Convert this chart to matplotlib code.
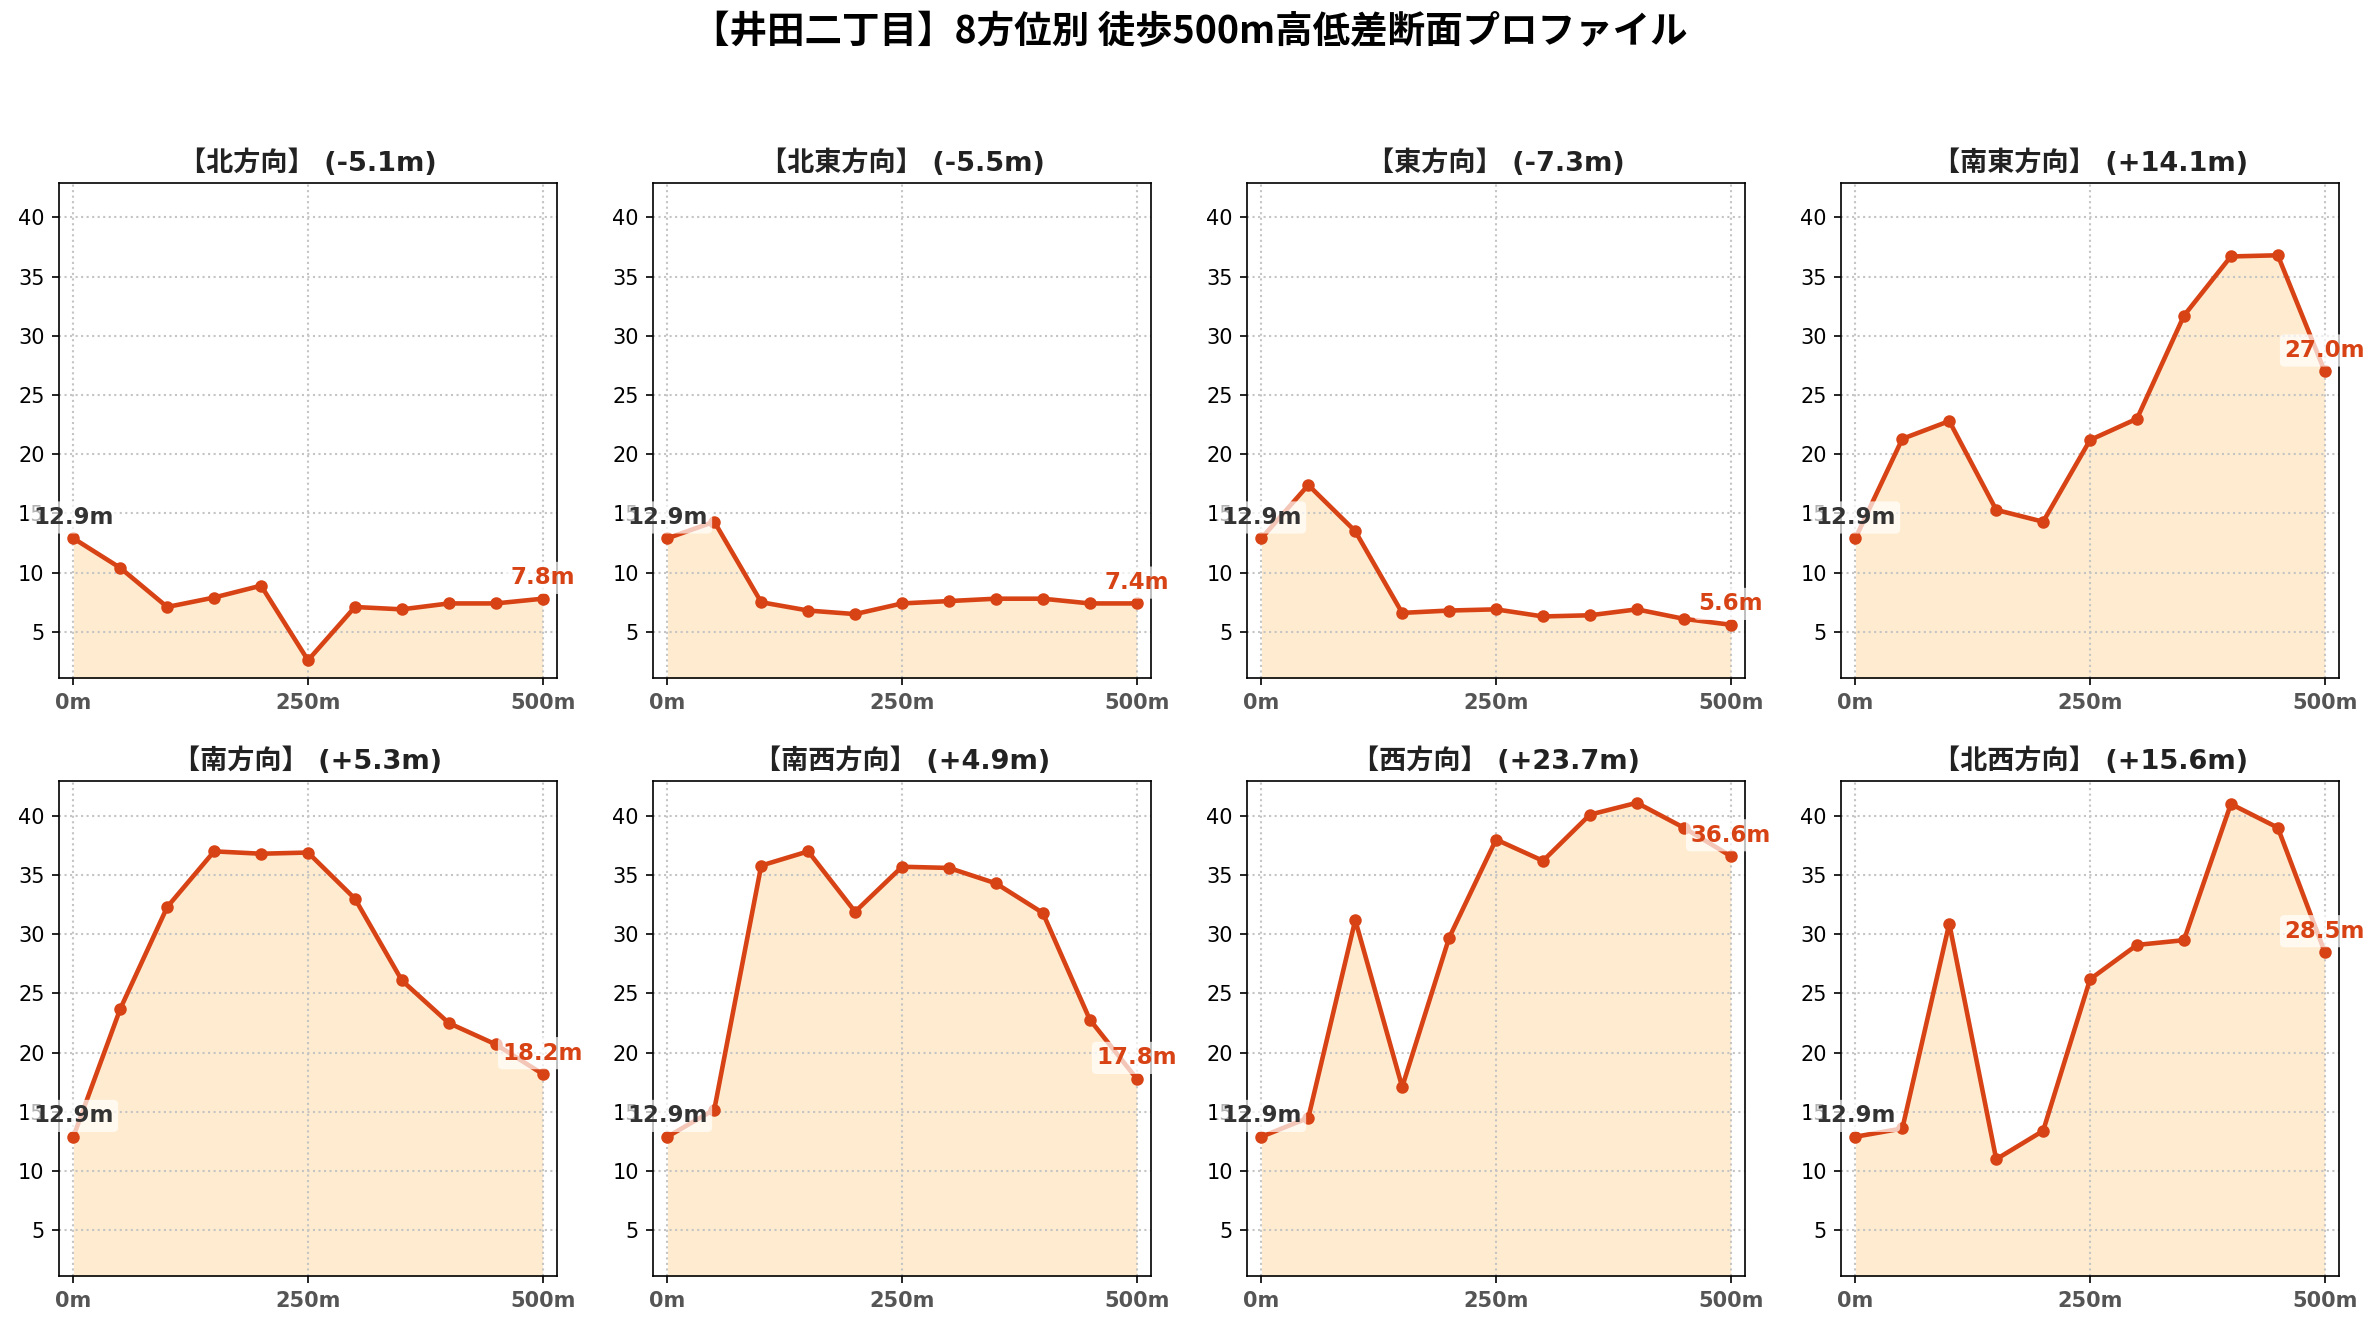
import matplotlib
matplotlib.use('Agg')
import matplotlib.pyplot as plt

plt.rcParams['font.family'] = ['DejaVu Sans', 'Noto Sans CJK JP']

# 距離（m）
distance = [0, 50, 100, 150, 200, 250, 300, 350, 400, 450, 500]

# 方位ごとの標高（m）
directions = ['北', '北東', '東', '南東', '南', '南西', '西', '北西']
elev_n = [12.9, 10.4, 7.1, 7.9, 8.9, 2.6, 7.1, 6.9, 7.4, 7.4, 7.8]
elev_ne = [12.9, 14.3, 7.5, 6.8, 6.5, 7.4, 7.6, 7.8, 7.8, 7.4, 7.4]
elev_e = [12.9, 17.4, 13.5, 6.6, 6.8, 6.9, 6.3, 6.4, 6.9, 6.1, 5.6]
elev_se = [12.9, 21.3, 22.8, 15.3, 14.3, 21.2, 23.0, 31.7, 36.7, 36.8, 27.0]
elev_s = [12.9, 23.7, 32.3, 37.0, 36.8, 36.9, 33.0, 26.1, 22.5, 20.7, 18.2]
elev_sw = [12.9, 15.2, 35.8, 37.0, 31.9, 35.7, 35.6, 34.3, 31.8, 22.8, 17.8]
elev_w = [12.9, 14.5, 31.2, 17.1, 29.7, 38.0, 36.2, 40.1, 41.1, 39.0, 36.6]
elev_nw = [12.9, 13.6, 30.9, 11.0, 13.4, 26.2, 29.1, 29.5, 41.0, 39.0, 28.5]

profiles = [elev_n, elev_ne, elev_e, elev_se, elev_s, elev_sw, elev_w, elev_nw]

line_color = '#D84315'
fill_color = '#FFE0B2'

all_vals = [v for p in profiles for v in p]
y_min = min(all_vals) - 1.5
y_max = max(all_vals) + 1.8

fig = plt.figure(figsize=(2380 / 150, 1340 / 150), dpi=150)
axes = fig.subplots(2, 4)
fig.subplots_adjust(left=0.0249, right=0.9827, top=0.8634, bottom=0.0474,
                    wspace=0.194, hspace=0.209)

for ax, name, elev in zip(axes.flat, directions, profiles):
    diff = elev[-1] - elev[0]
    ax.fill_between(distance, elev, y_min - 5, color=fill_color, alpha=0.6, linewidth=0)
    ax.plot(distance, elev, color=line_color, linewidth=2.2, marker='o', markersize=5)

    ax.set_title(f'【{name}方向】 ({diff:+.1f}m)', fontsize=13, fontweight='bold',
                 color='#222222')
    ax.set_ylim(y_min, y_max)
    ax.set_xlim(-15, 515)
    ax.set_xticks([0, 250, 500])
    ax.set_xticklabels(['0m', '250m', '500m'], fontweight='bold', color='#555555')
    ax.set_yticks(range(5, 45, 5))
    ax.tick_params(labelsize=10)
    ax.grid(True, linestyle=':', color='#c4c4c4', linewidth=1.0)

    # 始点・終点のラベル
    ax.annotate(f'{elev[0]:.1f}m', (distance[0], elev[0]), xytext=(0, 10),
                textcoords='offset points', ha='center', va='center',
                fontsize=11, fontweight='bold', color='#333333', annotation_clip=False,
                bbox=dict(boxstyle='round,pad=0.2', fc='white', ec='none', alpha=0.7))
    ax.annotate(f'{elev[-1]:.1f}m', (distance[-1], elev[-1]), xytext=(0, 10),
                textcoords='offset points', ha='center', va='center',
                fontsize=11, fontweight='bold', color=line_color, annotation_clip=False,
                bbox=dict(boxstyle='round,pad=0.2', fc='white', ec='none', alpha=0.7))

fig.suptitle('【井田二丁目】8方位別 徒歩500m高低差断面プロファイル', fontsize=18,
             fontweight='bold', y=0.976, va='center', family=['Noto Sans CJK JP'])

fig.savefig('out.png', dpi=150)
